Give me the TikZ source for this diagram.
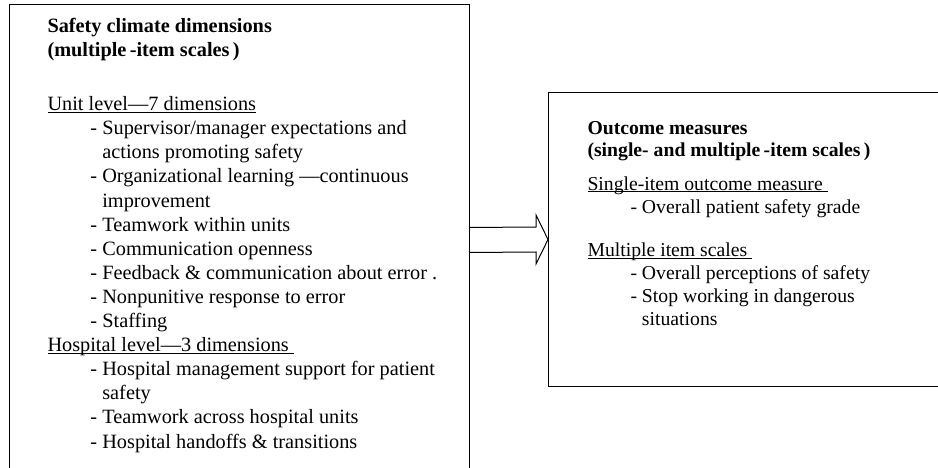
\documentclass[tikz,border=0pt]{standalone}
\usepackage{fontspec}
\setmainfont{Liberation Serif}
\newcommand{\itemgap}{\hspace*{43pt}}
\newcommand{\headline}[1]{\underline{\smash{#1}}}

\begin{document}
\begin{tikzpicture}[x=1pt, y=1pt, line width=1pt,
    panel/.style={draw, inner sep=0pt, outer sep=0pt, anchor=north west},
    lefttext/.style={inner sep=0pt, anchor=base west, align=left, font=\fontsize{20.3}{24.1}\selectfont},
    righttext/.style={inner sep=0pt, anchor=base west, align=left, font=\fontsize{19.7}{22.8}\selectfont}]
    % Frame of the picture
    \useasboundingbox (0,0) rectangle (938,467);
    \clip (0,0) rectangle (938,467);

    % Boxes
    \node[panel, minimum width=460pt, minimum height=470pt] (climate) at (9,462) {};
    \node[panel, minimum width=400pt, minimum height=293pt] (outcome) at (548,374) {};

    % Left box (base = last line)
    \node[lefttext] (climatetitle) at (47,410) {\bfseries Safety climate dimensions\\\bfseries (multiple\,-item scales\,)};
    \node[lefttext] (climatelist) at (47,19) {\headline{Unit level—7 dimensions}\\
        \itemgap- Supervisor/manager expectations and\\
        \itemgap\phantom{- }actions promoting safety\\
        \itemgap- Organizational learning —continuous\\
        \itemgap\phantom{- }improvement\\
        \itemgap- Teamwork within units\\
        \itemgap- Communication openness\\
        \itemgap- Feedback \& communication about error .\\
        \itemgap- Nonpunitive response to error\\
        \itemgap- Staffing\\
        \headline{Hospital level—3 dimensions\ }\\
        \itemgap- Hospital management support for patient\\
        \itemgap\phantom{- }safety\\
        \itemgap- Teamwork across hospital units\\
        \itemgap- Hospital handoffs \& transitions};

    % Right box
    \node[righttext] (outcometitle) at (587,310) {\bfseries Outcome measures\\\bfseries (single- and multiple\,-item scales\,)};
    \node[righttext] (singlelist) at (587,254) {\headline{Single-item outcome measure\ }\\
        \itemgap- Overall patient safety grade};
    \node[righttext] (multilist) at (587,142) {\headline{Multiple item scales\ }\\
        \itemgap- Overall perceptions of safety\\
        \itemgap- Stop working in dangerous\\
        \itemgap\phantom{- }situations};

    % Block arrow between the boxes
    \draw ([yshift=12.5pt]climate.east) -- ([xshift=-12pt, yshift=12.5pt]outcome.west)
        -- ([xshift=-12pt, yshift=24.5pt]outcome.west) -- (outcome.west)
        -- ([xshift=-12pt, yshift=-24.5pt]outcome.west) -- ([xshift=-12pt, yshift=-12.5pt]outcome.west)
        -- ([yshift=-12.5pt]climate.east);
\end{tikzpicture}
\end{document}
